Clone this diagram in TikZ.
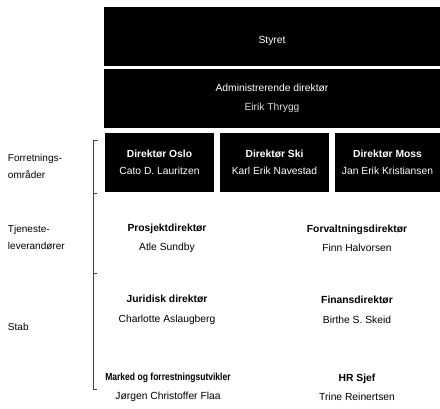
\documentclass[tikz,border=0pt]{standalone}
\usepackage{fontspec}
\setmainfont{Liberation Sans}
\begin{document}
\begin{tikzpicture}[x=1pt,y=-1pt,
  every node/.style={inner sep=0pt, outer sep=0pt},
  blk/.style={fill=black, draw=none, anchor=north west, text=white, align=center,
    font=\fontsize{10.3}{17.5}\selectfont},
  role/.style={align=center, font=\fontsize{10.3}{19.5}\selectfont},
  side/.style={anchor=west, align=left, font=\fontsize{10}{17}\selectfont},
  brk/.style={draw=black!75, line width=0.9pt}]
\useasboundingbox (0,0) rectangle (440,408);
% black boxes
\node[blk, minimum width=336pt, minimum height=59pt] (styret) at (104,7) {};
\node[text=white, font=\fontsize{10.3}{12}\selectfont] (styrettxt) at ([yshift=-4pt]styret.center) {Styret};
\node[blk, minimum width=336pt, minimum height=59pt] (adm) at (104,69)
  {Administrerende direktør\\[1pt]{\color{white!85!black}Eirik Thrygg}};
\node[blk, minimum width=109pt, minimum height=59pt] (oslo) at (105,133)
  {\textbf{Direktør Oslo}\\Cato D. Lauritzen};
\node[blk, minimum width=109pt, minimum height=59pt] (ski) at (220,133)
  {\textbf{Direktør Ski}\\Karl Erik Navestad};
\node[blk, minimum width=105pt, minimum height=59pt] (moss) at (335,133)
  {\textbf{Direktør Moss}\\Jan Erik Kristiansen};
% role texts
\node[role] (prosj) at (167,238.5) {\textbf{Prosjektdirektør}\\Atle Sundby};
\node[role] (forv) at (357,238.5) {\textbf{Forvaltningsdirektør}\\Finn Halvorsen};
\node[role] (jur) at (167,310) {\textbf{Juridisk direktør}\\Charlotte Aslaugberg};
\node[role] (fin) at (357,310) {\textbf{Finansdirektør}\\Birthe S. Skeid};
\node[role] (mark) at (168,387.5) {\scalebox{0.83}[1]{\textbf{Marked og forrestningsutvikler}}\\Jørgen Christoffer Flaa};
\node[role] (hr) at (357,387.5) {\textbf{HR Sjef}\\Trine Reinertsen};
% side labels
\node[side] (forr) at (8,166) {Forretnings-\\områder};
\node[side] (tjen) at (8,237) {Tjeneste-\\leverandører};
\node[side] (stab) at (8,327) {Stab};
% bracket
\draw[brk] (98,140) -- (93,140) -- (93,389) -- (97,389);
\draw[brk] (93,193) -- (97,193);
\draw[brk] (93,273) -- (97,273);
\end{tikzpicture}
\end{document}
